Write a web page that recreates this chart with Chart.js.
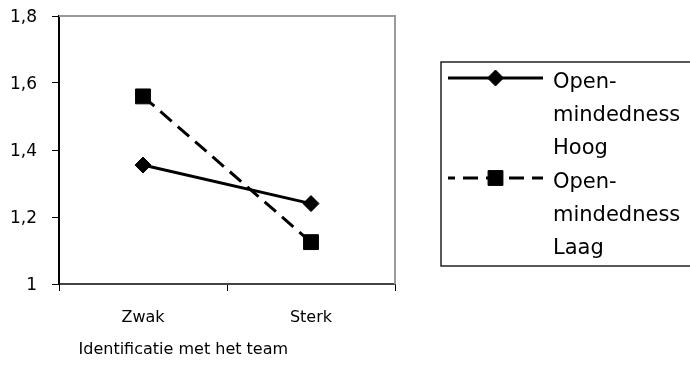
<!DOCTYPE html>
<html>
<head>
<meta charset="utf-8">
<script src="https://cdn.jsdelivr.net/npm/chart.js@4/dist/chart.umd.min.js"></script>
<style>
  html, body { margin: 0; padding: 0; background: #fff; }
  canvas { display: block; }
</style>
</head>
<body>
<canvas id="c" width="690" height="366"></canvas>
<script>
// Categories on the x axis
const categories = ['Zwak', 'Sterk'];
// Mean scores per group
const hoogValues = [1.355, 1.24];
const laagValues = [1.56, 1.125];
// Legend names, one entry per series, split over lines
const seriesNames = [['Open-', 'mindedness', 'Hoog'], ['Open-', 'mindedness', 'Laag']];
// Value axis ticks
const yTicks = [1, 1.2, 1.4, 1.6, 1.8];
const xAxisTitle = 'Identificatie met het team';

const FONT = "'DejaVu Sans', sans-serif";

// Gray frame on the top and right side of the plot area
const framePlugin = {
  id: 'frame',
  beforeDatasetsDraw(chart) {
    const { ctx, chartArea: a } = chart;
    ctx.save();
    ctx.strokeStyle = '#9a9a9a';
    ctx.lineWidth = 2;
    ctx.beginPath();
    ctx.moveTo(a.left, a.top);
    ctx.lineTo(a.right, a.top);
    ctx.lineTo(a.right, a.bottom);
    ctx.stroke();
    ctx.restore();
  }
};

// Axis title under the category labels, set slightly left of the axis centre
const axisTitlePlugin = {
  id: 'axisTitle',
  afterDraw(chart) {
    const { ctx, chartArea: a } = chart;
    ctx.save();
    ctx.fillStyle = '#000';
    ctx.font = '16px ' + FONT;
    ctx.textAlign = 'center';
    ctx.textBaseline = 'middle';
    ctx.fillText(xAxisTitle, a.left + (a.right - a.left) * 0.37, a.bottom + 66);
    ctx.restore();
  }
};

// Boxed legend with multi-line names, on the right of the plot
const boxLegend = {
  id: 'boxLegend',
  afterDraw(chart) {
    const { ctx } = chart;
    const box = { left: 441, top: 62, right: 694, bottom: 266 };
    const lineStep = 33;
    const entryStep = 100;
    ctx.save();
    ctx.strokeStyle = '#222';
    ctx.lineWidth = 1.5;
    ctx.strokeRect(box.left, box.top, box.right - box.left, box.bottom - box.top);
    chart.data.datasets.forEach((ds, i) => {
      const y = box.top + 16 + i * entryStep;
      const x0 = 448, x1 = 543, xm = (x0 + x1) / 2;
      ctx.strokeStyle = ds.borderColor;
      ctx.lineWidth = ds.borderWidth;
      ctx.setLineDash(ds.borderDash || []);
      ctx.lineDashOffset = ds.borderDash ? 8 : 0;
      ctx.beginPath();
      ctx.moveTo(x0, y);
      ctx.lineTo(x1, y);
      ctx.stroke();
      ctx.setLineDash([]);
      ctx.fillStyle = ds.pointBackgroundColor;
      ctx.strokeStyle = ds.pointBorderColor;
      ctx.lineWidth = ds.pointBorderWidth;
      Chart.helpers.drawPoint(ctx, {
        pointStyle: ds.pointStyle,
        radius: ds.pointRadius,
        rotation: 0,
        borderWidth: ds.pointBorderWidth
      }, xm, y);
      ctx.fillStyle = '#000';
      ctx.font = '21px ' + FONT;
      ctx.textAlign = 'left';
      ctx.textBaseline = 'middle';
      seriesNames[i].forEach((t, k) => {
        ctx.fillText(t, 553, y + 5 + k * lineStep);
      });
    });
    ctx.restore();
  }
};

new Chart(document.getElementById('c'), {
  type: 'line',
  data: {
    labels: categories,
    datasets: [
      {
        label: seriesNames[0].join(' '),
        data: hoogValues,
        borderColor: '#000',
        borderWidth: 3,
        pointStyle: 'rectRot',
        pointRadius: 8,
        pointBackgroundColor: '#000',
        pointBorderColor: '#000',
        pointBorderWidth: 1,
        tension: 0
      },
      {
        label: seriesNames[1].join(' '),
        data: laagValues,
        borderColor: '#000',
        borderWidth: 3,
        borderDash: [15, 8],
        pointStyle: 'rect',
        pointRadius: 10.5,
        pointBackgroundColor: '#000',
        pointBorderColor: '#000',
        pointBorderWidth: 1,
        tension: 0
      }
    ]
  },
  options: {
    responsive: false,
    animation: false,
    devicePixelRatio: 1,
    layout: { padding: { left: 0, top: 16, right: 295, bottom: 0 } },
    plugins: {
      legend: { display: false },
      tooltip: { enabled: false }
    },
    scales: {
      x: {
        offset: true,
        afterFit(s) { s.height = 82; s.paddingLeft = 0; s.paddingRight = 0; },
        grid: {
          offset: true,
          drawOnChartArea: false,
          drawTicks: true,
          tickLength: 7,
          color: '#000',
          lineWidth: 1
        },
        border: { color: '#444', width: 2 },
        ticks: {
          color: '#000',
          font: { family: FONT, size: 16 },
          padding: 17,
          maxRotation: 0
        }
      },
      y: {
        min: 1,
        max: 1.8,
        afterFit(s) { s.width = 59; s.paddingTop = 0; s.paddingBottom = 0; },
        afterBuildTicks(s) { s.ticks = yTicks.map(v => ({ value: v })); },
        grid: {
          drawOnChartArea: false,
          drawTicks: true,
          tickLength: 7,
          color: '#000',
          lineWidth: 1
        },
        border: { color: '#000', width: 2 },
        ticks: {
          color: '#000',
          font: { family: FONT, size: 17 },
          padding: 15,
          labelOffset: 2,
          callback: v => String(v).replace('.', ',')
        }
      }
    }
  },
  plugins: [framePlugin, axisTitlePlugin, boxLegend]
});
</script>
</body>
</html>
